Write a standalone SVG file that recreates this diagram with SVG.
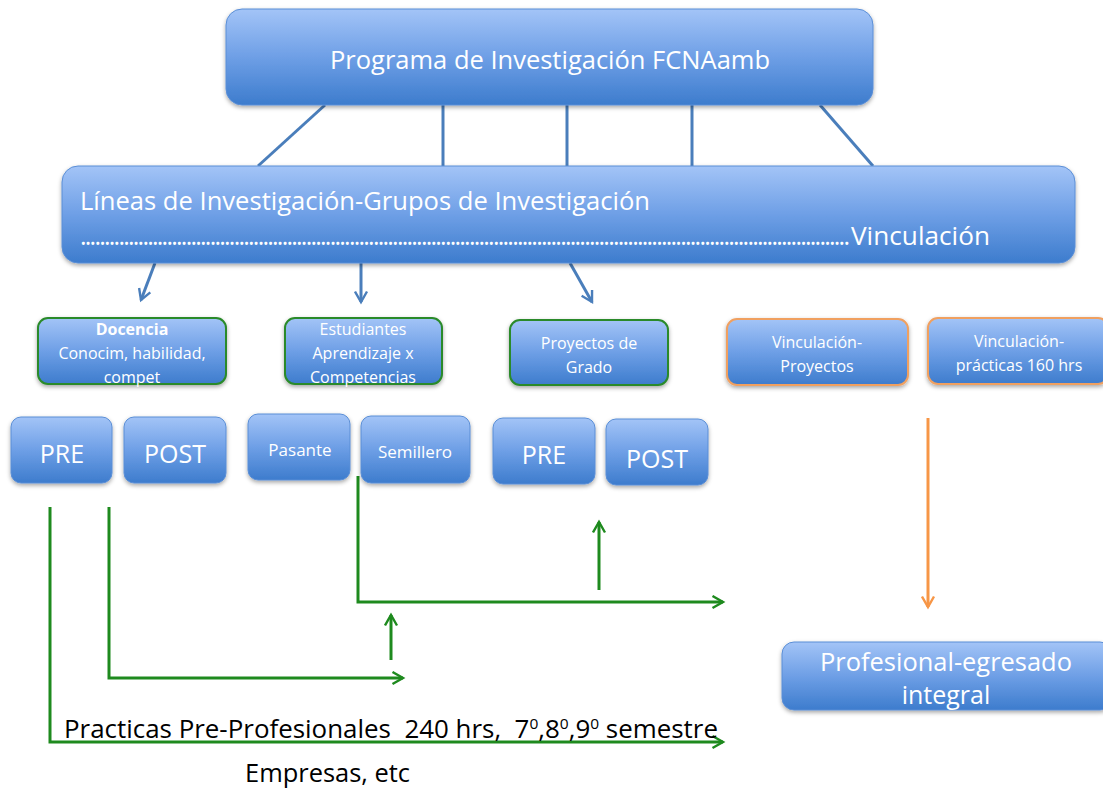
<svg xmlns="http://www.w3.org/2000/svg" width="1103" height="789" viewBox="0 0 1103 789">
<defs>
<linearGradient id="bg" x1="0" y1="0" x2="0" y2="1">
<stop offset="0" stop-color="#a3c4f7"/>
<stop offset="0.5" stop-color="#6e9fe6"/>
<stop offset="1" stop-color="#3d7ccd"/>
</linearGradient>
<filter id="sh" x="-10%" y="-10%" width="120%" height="130%">
<feDropShadow dx="0" dy="2" stdDeviation="2" flood-color="#000" flood-opacity="0.35"/>
</filter>
<marker id="ab" viewBox="0 0 10 10" refX="8" refY="5" markerWidth="5" markerHeight="5" orient="auto" markerUnits="strokeWidth">
<path d="M1,1 L8,5 L1,9" fill="none" stroke="#4a7ebb" stroke-width="1.6"/>
</marker>
<marker id="ag" viewBox="0 0 10 10" refX="8" refY="5" markerWidth="5" markerHeight="5" orient="auto" markerUnits="strokeWidth">
<path d="M1,1 L8,5 L1,9" fill="none" stroke="#1e8a1e" stroke-width="1.6"/>
</marker>
<marker id="ao" viewBox="0 0 10 10" refX="8" refY="5" markerWidth="5" markerHeight="5" orient="auto" markerUnits="strokeWidth">
<path d="M1,1 L8,5 L1,9" fill="none" stroke="#f79646" stroke-width="1.6"/>
</marker>
</defs>
<style>
.box{fill:url(#bg);stroke:#5a8ed6;stroke-width:1;filter:url(#sh)}
.gb{fill:url(#bg);stroke:#2a8a2a;stroke-width:2;filter:url(#sh)}
.ob{fill:url(#bg);stroke:#f0a060;stroke-width:2;filter:url(#sh)}
text{font-family:"Open Sans","Liberation Sans",sans-serif;fill:#ffffff;white-space:pre}
.c{text-anchor:middle}
.dk{fill:#000000}
.s{font-size:16px}
.bl{fill:none;stroke:#4a7ebb;stroke-width:3}
.gl{fill:none;stroke:#1e8a1e;stroke-width:3}
.ol{fill:none;stroke:#f79646;stroke-width:3}
</style>
<rect width="1103" height="789" fill="#ffffff"/>

<g id="connectors">
<line class="bl" x1="325" y1="105" x2="258" y2="166"/>
<line class="bl" x1="443" y1="105" x2="443" y2="166"/>
<line class="bl" x1="567" y1="105" x2="567" y2="166"/>
<line class="bl" x1="692" y1="105" x2="692" y2="166"/>
<line class="bl" x1="820" y1="105" x2="873" y2="166"/>
<line class="bl" x1="155" y1="263" x2="141" y2="300" marker-end="url(#ab)"/>
<line class="bl" x1="361" y1="263" x2="361" y2="302" marker-end="url(#ab)"/>
<line class="bl" x1="570" y1="263" x2="592" y2="302" marker-end="url(#ab)"/>
<polyline class="gl" points="50,507 50,742 723,742" marker-end="url(#ag)"/>
<polyline class="gl" points="109,507 109,678 403,678" marker-end="url(#ag)"/>
<line class="gl" x1="391" y1="660" x2="391" y2="615" marker-end="url(#ag)"/>
<polyline class="gl" points="358,476 358,602 723,602" marker-end="url(#ag)"/>
<line class="gl" x1="599" y1="590" x2="599" y2="522" marker-end="url(#ag)"/>
<line class="ol" x1="928" y1="418" x2="928" y2="607" marker-end="url(#ao)"/>
</g>

<g id="programa">
<rect class="box" x="226" y="9" width="647" height="96" rx="16"/>
<text class="c" x="550" y="69" font-size="25" textLength="440" lengthAdjust="spacingAndGlyphs">Programa de Investigación FCNAamb</text>
</g>

<g id="lineas">
<rect class="box" x="62" y="166" width="1013" height="97" rx="16"/>
<text x="80" y="210" font-size="25" textLength="570" lengthAdjust="spacingAndGlyphs">Líneas de Investigación-Grupos de Investigación</text>
<text x="80" y="245" font-size="25" textLength="770" lengthAdjust="spacing">................................................................................................................................................................</text>
<text x="851" y="245" font-size="25" textLength="139" lengthAdjust="spacingAndGlyphs">Vinculación</text>
</g>

<g id="docencia">
<rect class="gb" x="38" y="318" width="188" height="66" rx="10"/>
<text class="c s" x="132" y="335" font-weight="bold">Docencia</text>
<text class="c s" x="132" y="359">Conocim, habilidad,</text>
<text class="c s" x="132" y="383">compet</text>
</g>

<g id="estudiantes">
<rect class="gb" x="285" y="318" width="157" height="66" rx="10"/>
<text class="c s" x="363" y="335">Estudiantes</text>
<text class="c s" x="363" y="359">Aprendizaje x</text>
<text class="c s" x="363" y="383">Competencias</text>
</g>

<g id="proyectos-grado">
<rect class="gb" x="510" y="320" width="158" height="65" rx="10"/>
<text class="c s" x="589" y="349">Proyectos de</text>
<text class="c s" x="589" y="373">Grado</text>
</g>

<g id="vinc-proyectos">
<rect class="ob" x="727" y="319" width="181" height="66" rx="10"/>
<text class="c s" x="817" y="348">Vinculación-</text>
<text class="c s" x="817" y="372">Proyectos</text>
</g>

<g id="vinc-practicas">
<rect class="ob" x="928" y="318" width="180" height="66" rx="10"/>
<text class="c s" x="1019" y="347">Vinculación-</text>
<text class="c s" x="1019" y="371">prácticas 160 hrs</text>
</g>

<g id="pre1">
<rect class="box" x="11" y="417" width="101" height="66" rx="10"/>
<text class="c" x="62" y="463" font-size="25">PRE</text>
</g>
<g id="post1">
<rect class="box" x="124" y="417" width="102" height="66" rx="10"/>
<text class="c" x="175" y="463" font-size="25">POST</text>
</g>
<g id="pasante">
<rect class="box" x="248" y="414" width="102" height="66" rx="10"/>
<text class="c" x="300" y="456" font-size="17">Pasante</text>
</g>
<g id="semillero">
<rect class="box" x="361" y="416" width="109" height="67" rx="10"/>
<text class="c" x="415" y="458" font-size="17">Semillero</text>
</g>
<g id="pre2">
<rect class="box" x="493" y="418" width="102" height="66" rx="10"/>
<text class="c" x="544" y="464" font-size="25">PRE</text>
</g>
<g id="post2">
<rect class="box" x="606" y="419" width="102" height="66" rx="10"/>
<text class="c" x="657" y="468" font-size="25">POST</text>
</g>

<g id="profesional">
<rect class="box" x="782" y="642" width="330" height="68" rx="12"/>
<text class="c" x="946" y="671" font-size="25" textLength="252" lengthAdjust="spacingAndGlyphs">Profesional-egresado</text>
<text class="c" x="946" y="704" font-size="25">integral</text>
</g>

<g id="labels">
<text class="dk" x="64" y="738" font-size="25" textLength="654" lengthAdjust="spacingAndGlyphs">Practicas Pre-Profesionales  240 hrs,  7<tspan dy="-9" font-size="15">0</tspan><tspan dy="9">,8</tspan><tspan dy="-9" font-size="15">0</tspan><tspan dy="9">,9</tspan><tspan dy="-9" font-size="15">0</tspan><tspan dy="9"> semestre</tspan></text>
<text class="dk" x="245" y="782" font-size="25" textLength="165" lengthAdjust="spacingAndGlyphs">Empresas, etc</text>
</g>
</svg>
